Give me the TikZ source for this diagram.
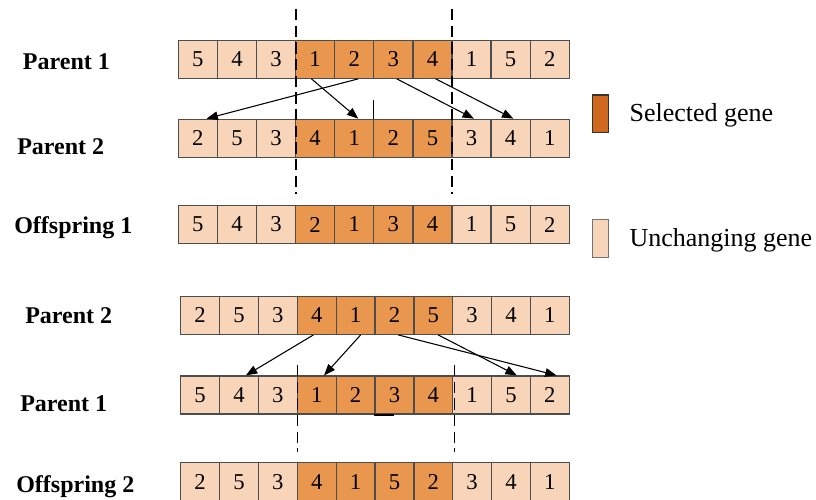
\documentclass[tikz,border=0pt]{standalone}
\usepackage{fontspec}
\setmainfont{Liberation Serif}
\usetikzlibrary{arrows.meta}

\definecolor{selfill}{HTML}{E9964F}
\definecolor{keepfill}{HTML}{F8D5B9}
\definecolor{keyfill}{HTML}{D0691E}
\definecolor{cellline}{HTML}{4D4D4D}

\tikzset{
  gene/.style={draw=cellline, line width=0.95pt, inner sep=0pt, minimum height=28.5pt,
    font=\fontsize{17}{19}\selectfont},
  selgene/.style={gene, fill=selfill},
  keepgene/.style={gene, fill=keepfill},
  rowlabel/.style={anchor=base west, inner sep=0pt, font=\fontsize{18}{20}\selectfont\bfseries},
  keytext/.style={anchor=base west, inner sep=0pt, font=\fontsize{19.5}{22}\selectfont},
  keybox/.style={line width=0.9pt, inner sep=0pt, minimum width=11.7pt, minimum height=28.3pt},
  move/.style={-{Triangle[length=8.5pt,width=6.5pt]}, line width=0.8pt},
  cutline/.style={line width=0.8pt, dash pattern=on 8.5pt off 4pt},
}

% one chromosome: name, left x, centre y, gene width, genes (genes 4-7 are selected)
\newcommand{\chromosome}[5]{%
  \foreach \g [count=\i] in {#5} {
    \ifnum\i>3 \ifnum\i<8 \def\kind{selgene}\else\def\kind{keepgene}\fi\else\def\kind{keepgene}\fi
    \node[\kind, minimum width={#4*0.75pt}] (#1\i) at ({#2+#4*(\i-0.5)},#3) {\g};
  }%
}

\begin{document}
\begin{tikzpicture}[x=0.75pt, y=-0.75pt]
  \useasboundingbox (0,0) rectangle (816,499);
  \clip (0,0) rectangle (816,499);

  % first crossover
  \chromosome{p1top}{178.3}{59.2}{39.1}{5,4,3,1,2,3,4,1,5,2}
  \chromosome{p2top}{178.3}{138.3}{39.1}{2,5,3,4,1,2,5,3,4,1}
  \chromosome{off1}{178.3}{224.5}{39.1}{5,4,3,2,1,3,4,1,5,2}

  % second crossover
  \chromosome{p2low}{180.7}{315.3}{38.86}{2,5,3,4,1,2,5,3,4,1}
  \chromosome{p1low}{180.7}{395}{38.86}{5,4,3,1,2,3,4,1,5,2}
  \chromosome{off2}{180.7}{481.7}{38.86}{2,5,3,4,1,5,2,3,4,1}

  \node[rowlabel] (lp1top) at (22.7,69.3) {Parent 1};
  \node[rowlabel] (lp2top) at (17,154) {Parent 2};
  \node[rowlabel] (loff1) at (14,233) {Offspring 1};
  \node[rowlabel] (lp2low) at (25,323) {Parent 2};
  \node[rowlabel] (lp1low) at (20,411) {Parent 1};
  \node[rowlabel] (loff2) at (16,492) {Offspring 2};

  % cut points
  \draw[cutline] (296,9) -- (296,194);
  \draw[cutline] (452,9) -- (452,194);
  \draw[cutline] (297.7,365) -- (297.7,452);
  \draw[cutline] (454.3,365) -- (454.3,452);

  \draw[move] ([xshift=3pt]p1top5.south) -- ([xshift=6.5pt]p2top1.north);
  \draw[move] ([xshift=-2.8pt]p1top4.south) -- ([xshift=3pt]p2top5.north);
  \draw[move] ([xshift=2.5pt]p1top6.south) -- ([xshift=1.8pt]p2top8.north);
  \draw[move] ([xshift=2.4pt]p1top7.south) -- ([xshift=2pt]p2top9.north);
  \draw[line width=0.8pt] (p2top6.north west) -- ++(0,-19);

  \draw[move] ([xshift=-2.5pt]p2low4.south) -- ([xshift=5.2pt]p1low2.north);
  \draw[move] ([xshift=3.8pt]p2low5.south) -- ([xshift=5.5pt]p1low4.north);
  \draw[move] ([xshift=2.9pt]p2low6.south) -- ([xshift=5pt]p1low10.north);
  \draw[move] ([xshift=3.7pt]p2low7.south) -- ([xshift=4.3pt]p1low9.north);
  \draw[line width=1.6pt] (p1low6.south west) -- (p1low6.south);

  % legend
  \node[keybox, draw=black!80, fill=keyfill] (selkey) at (600.5,113.9) {};
  \node[keybox, draw=black!55, fill=keepfill] (keepkey) at (600.5,238.4) {};
  \node[keytext] (seltext) at (629.3,121.7) {Selected gene};
  \node[keytext] (keeptext) at (629.3,246.7) {Unchanging gene};
\end{tikzpicture}
\end{document}
